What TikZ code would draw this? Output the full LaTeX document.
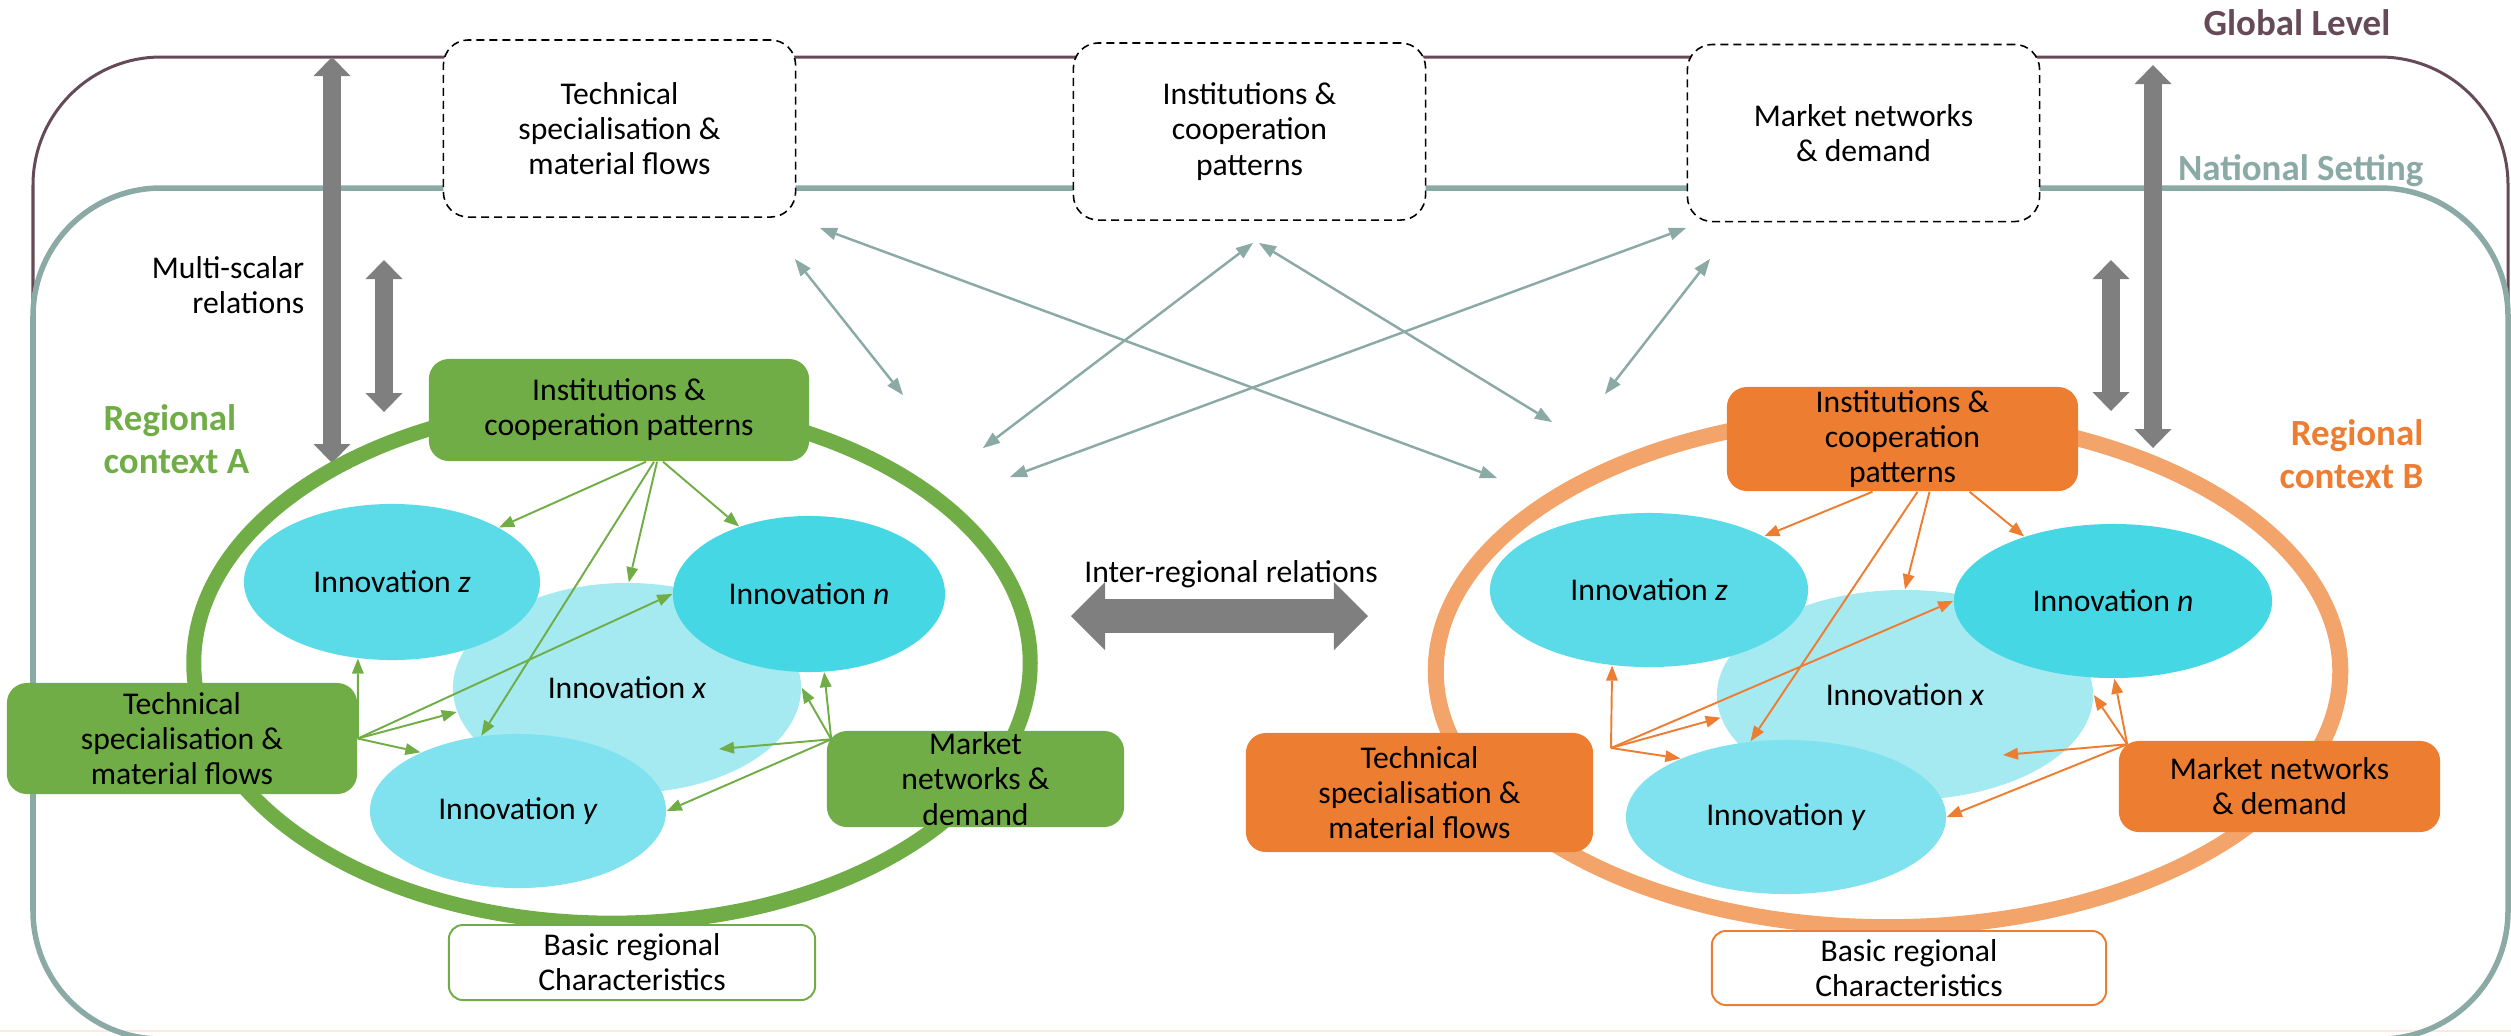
\documentclass[tikz,border=0pt]{standalone}
\usepackage{fontspec}
\setmainfont{Carlito}
\usepackage{xcolor}
\usetikzlibrary{arrows.meta,shapes.geometric}
\definecolor{globbrown}{HTML}{654B57}
\definecolor{natteal}{HTML}{8BAAA5}
\definecolor{regA}{HTML}{70AD47}
\definecolor{regB}{HTML}{ED7D31}
\definecolor{ringB}{HTML}{F3A46B}
\definecolor{relgrey}{HTML}{7F7F7F}
\definecolor{innz}{HTML}{5BDBE8}
\definecolor{innn}{HTML}{46D7E5}
\definecolor{innx}{HTML}{A5EAF1}
\definecolor{inny}{HTML}{7FE2EE}
\definecolor{edgebeige}{HTML}{FBEBDC}

\begin{document}
\begin{tikzpicture}[
    x=0.01cm, y=-0.01cm,
    font=\fontsize{9}{10}\selectfont,
    title/.style={font=\fontsize{10.5}{12.2}\selectfont\bfseries, inner sep=0pt},
    levelbox/.style={draw, dash pattern=on 0.08cm off 0.05cm, line width=0.45pt, rounded corners=0.25cm, fill=white, align=center, minimum width=3.52cm, minimum height=1.77cm},
    regbox/.style={rounded corners=0.2cm, align=center, inner sep=0pt},
    basicbox/.style={draw, line width=0.55pt, fill=white, rounded corners=0.14cm, align=center, inner sep=0pt},
    innov/.style={ellipse, inner sep=0pt},
    bigarrow/.style={draw=relgrey, line width=0.18cm, {Triangle[width=0.37cm,length=0.19cm,line width=0pt]}-{Triangle[width=0.37cm,length=0.19cm,line width=0pt]}},
    natarrow/.style={draw=natteal, line width=0.7pt, {Triangle[width=0.13cm,length=0.17cm,line width=0pt]}-{Triangle[width=0.13cm,length=0.17cm,line width=0pt]}},
    garrow/.style={draw=regA, line width=0.55pt, -{Triangle[width=0.12cm,length=0.15cm,line width=0pt]}},
    oarrow/.style={draw=regB, line width=0.55pt, -{Triangle[width=0.12cm,length=0.15cm,line width=0pt]}}
  ]
    \useasboundingbox (0,0) rectangle (2511,1035);

    % global and national frames
    \draw[edgebeige, line width=0.02cm] (0,1031) -- (2511,1031);
    \draw[globbrown, line width=0.03cm, rounded corners=1.28cm] (33,57) rectangle (2508,1039);
    \draw[natteal, line width=0.055cm, rounded corners=1.28cm] (33,188) rectangle (2508,1039);
    \node[title, text=globbrown, anchor=base east] (glob) at (2391,35) {Global Level};
    \node[title, text=natteal, anchor=base east] (nat) at (2424,180) {National Setting};

    % higher level dimensions
    \node[levelbox] (gtech) at (619.5,128.5) {Technical\\specialisation \&\\material flows};
    \node[levelbox] (ginst) at (1249.5,131.5) {Institutions \&\\cooperation\\patterns};
    \node[levelbox] (gmark) at (1863.5,133) {Market networks\\\& demand};

    \coordinate (nt1s) at (820,228);  \coordinate (nt1e) at (1497,478);
    \coordinate (nt2s) at (795,259);  \coordinate (nt2e) at (903,395);
    \coordinate (nt3s) at (1253,243); \coordinate (nt3e) at (983,448);
    \coordinate (nt4s) at (1259,243); \coordinate (nt4e) at (1552,422);
    \coordinate (nt5s) at (1686,228); \coordinate (nt5e) at (1010,477);
    \coordinate (nt6s) at (1710,259); \coordinate (nt6e) at (1605,394);
    \draw[natarrow] (nt1s) -- (nt1e);
    \draw[natarrow] (nt2s) -- (nt2e);
    \draw[natarrow] (nt3s) -- (nt3e);
    \draw[natarrow] (nt4s) -- (nt4e);
    \draw[natarrow] (nt5s) -- (nt5e);
    \draw[natarrow] (nt6s) -- (nt6e);

    % multi-scalar relations
    \coordinate (msA1) at (332,57);   \coordinate (msA2) at (332,463);
    \coordinate (msA3) at (384,260);  \coordinate (msA4) at (384,412);
    \coordinate (msB1) at (2153,65);  \coordinate (msB2) at (2153,448);
    \coordinate (msB3) at (2111,260); \coordinate (msB4) at (2111,411);
    \draw[bigarrow] (msA1) -- (msA2);
    \draw[bigarrow] (msA3) -- (msA4);
    \draw[bigarrow] (msB1) -- (msB2);
    \draw[bigarrow] (msB3) -- (msB4);
    \node[anchor=north east, align=right, inner sep=0pt] (mslabel) at (305,256) {Multi-scalar\\relations};

    % regional contexts
    \draw[regA, line width=0.15cm] (612,663) ellipse [x radius=4.18cm, y radius=2.6cm];
    \draw[ringB, line width=0.16cm] (1888,671) ellipse [x radius=4.52cm, y radius=2.56cm];
    \node[title, text=regA, anchor=north west, align=left] (regAlabel) at (103,404) {Regional\\context A};
    \node[title, text=regB, anchor=north east, align=right] (regBlabel) at (2424,419) {Regional\\context B};

    % innovations, region A
    \node[innov, fill=innx, minimum width=3.48cm, minimum height=2.1cm] (xA) at (627,688) {Innovation \textit{x}};
    \node[innov, fill=innz, minimum width=2.96cm, minimum height=1.56cm] (zA) at (392,582) {Innovation \textit{z}};
    \node[innov, fill=innn, minimum width=2.72cm, minimum height=1.56cm] (nA) at (809,594) {Innovation \textit{n}};
    \node[innov, fill=inny, minimum width=2.96cm, minimum height=1.54cm] (yA) at (518,811) {Innovation \textit{y}};

    % innovations, region B
    \node[innov, fill=innx, minimum width=3.76cm, minimum height=2.1cm] (xB) at (1905,695) {Innovation \textit{x}};
    \node[innov, fill=innz, minimum width=3.18cm, minimum height=1.54cm] (zB) at (1649,590) {Innovation \textit{z}};
    \node[innov, fill=innn, minimum width=3.18cm, minimum height=1.54cm] (nB) at (2113,601) {Innovation \textit{n}};
    \node[innov, fill=inny, minimum width=3.2cm, minimum height=1.54cm] (yB) at (1786,817) {Innovation \textit{y}};

    % regional dimensions
    \node[regbox, fill=regA, minimum width=3.8cm, minimum height=1.02cm] (instA) at (619,410) {Institutions \&\\cooperation patterns};
    \node[regbox, fill=regA, minimum width=3.5cm, minimum height=1.11cm] (techA) at (182,738.5) {Technical\\specialisation \&\\material flows};
    \node[regbox, fill=regA, minimum width=2.97cm, minimum height=0.96cm] (markA) at (975.5,779) {Market\\networks \&\\demand};
    \node[basicbox, draw=regA, minimum width=3.66cm, minimum height=0.75cm] (basicA) at (632,962.5) {Basic regional\\Characteristics};

    \node[regbox, fill=regB, minimum width=3.51cm, minimum height=1.04cm] (instB) at (1902.5,439) {Institutions \&\\cooperation\\patterns};
    \node[regbox, fill=regB, minimum width=3.47cm, minimum height=1.19cm] (techB) at (1419.5,792.5) {Technical\\specialisation \&\\material flows};
    \node[regbox, fill=regB, minimum width=3.21cm, minimum height=0.91cm] (markB) at (2279.5,786.5) {Market networks\\\& demand};
    \node[basicbox, draw=regB, minimum width=3.94cm, minimum height=0.74cm] (basicB) at (1909,968) {Basic regional\\Characteristics};

    % relations inside region A
    \coordinate (mA) at ([shift={(0.05cm,-0.09cm)}]markA.north west);
    \coordinate (xAin) at (719,749);
    \draw[garrow] ([xshift=0.27cm]instA.south) -- (zA.27.6);
    \draw[garrow] ([xshift=0.35cm]instA.south) -- (yA.116.3);
    \draw[garrow] ([xshift=0.38cm]instA.south) -- (xA.89);
    \draw[garrow] ([xshift=0.44cm]instA.south) -- (nA.136.4);
    \draw[garrow] (techA.east) -- (zA.246.4);
    \draw[garrow] (techA.east) -- (nA.180);
    \draw[garrow] (techA.east) -- (xA.188.2);
    \draw[garrow] (techA.east) -- (yA.149.3);
    \draw[garrow] (mA) -- (nA.-79);
    \draw[garrow] (mA) -- (xA.0);
    \draw[garrow] (mA) -- (xAin);
    \draw[garrow] (mA) -- (yA.0);

    % relations inside region B
    \coordinate (tB) at (1611,748);
    \coordinate (mB) at ([shift={(0.09cm,-0.04cm)}]markB.north west);
    \coordinate (xBin) at (2003,755);
    \draw[oarrow] ([xshift=-0.3cm]instB.south) -- (zB.25.8);
    \draw[oarrow] ([xshift=0.15cm]instB.south) -- (yB.115.7);
    \draw[oarrow] ([xshift=0.27cm]instB.south) -- (xB.90);
    \draw[oarrow] ([xshift=0.67cm]instB.south) -- (nB.144.1);
    \draw[oarrow] (tB) -- (zB.244.3);
    \draw[oarrow] (tB) -- (nB.180);
    \draw[oarrow] (tB) -- (xB.187.2);
    \draw[oarrow] (tB) -- (yB.151.6);
    \draw[oarrow] (mB) -- (nB.-89);
    \draw[oarrow] (mB) -- (xB.0);
    \draw[oarrow] (mB) -- (xBin);
    \draw[oarrow] (mB) -- (yB.0);

    % inter-regional relations
    \coordinate (irA) at (1071,616);
    \coordinate (irB) at (1368,616);
    \draw[draw=relgrey, line width=0.34cm, {Triangle[width=0.68cm,length=0.34cm,line width=0pt]}-{Triangle[width=0.68cm,length=0.34cm,line width=0pt]}] (irA) -- (irB);
    \node[anchor=base] (irlabel) at (1231,582) {Inter-regional relations};
\end{tikzpicture}
\end{document}
